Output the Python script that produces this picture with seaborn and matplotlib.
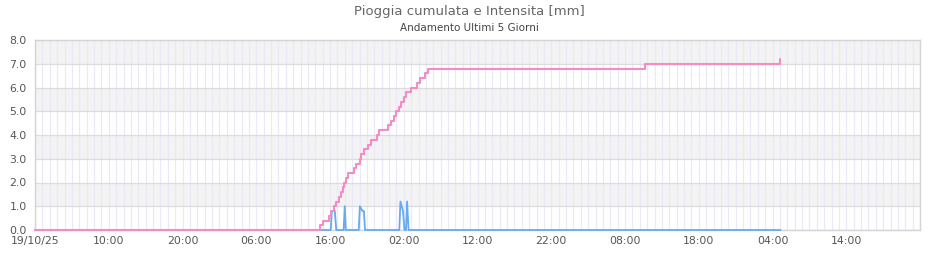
import matplotlib
matplotlib.use("Agg")
import matplotlib.pyplot as plt
from matplotlib.ticker import MultipleLocator, FuncFormatter
import seaborn as sns
import pandas as pd

# ---- data (hours since 19/10/25 00:00) ----
start = pd.Timestamp("2025-10-19 00:00")

cum_hours = [0.0, 38.7, 39.0, 39.9, 40.1, 40.6, 40.8, 41.2, 41.5, 41.8, 41.9,
             42.2, 42.5, 43.3, 43.5, 44.0, 44.2, 44.6, 45.2, 45.6, 46.4, 46.6,
             47.9, 48.3, 48.7, 49.0, 49.3, 49.6, 50.1, 50.3, 51.0, 51.8, 52.2,
             52.9, 53.3, 82.7, 101.0]
cum_values = [0.0, 0.2, 0.4, 0.6, 0.8, 1.0, 1.2, 1.4, 1.6, 1.8, 2.0,
              2.2, 2.4, 2.6, 2.8, 3.0, 3.2, 3.4, 3.6, 3.8, 4.0, 4.2,
              4.4, 4.6, 4.8, 5.0, 5.2, 5.4, 5.6, 5.8, 6.0, 6.2, 6.4,
              6.6, 6.8, 7.0, 7.2]

int_hours = [0.0, 40.1, 40.25, 40.65, 40.85, 41.85, 42.0, 42.15, 43.9, 44.05,
             44.4, 44.6, 44.75, 49.4, 49.55, 49.9, 50.1, 50.3, 50.45, 50.65, 101.1]
int_values = [0.0, 0.0, 0.8, 0.8, 0.0, 0.0, 1.0, 0.0, 0.0, 1.0,
              0.8, 0.8, 0.0, 0.0, 1.2, 0.8, 0.0, 0.0, 1.2, 0.0, 0.0]

y_ticks = [0.0, 1.0, 2.0, 3.0, 4.0, 5.0, 6.0, 7.0, 8.0]
x_span_hours = 120

title = "Pioggia cumulata e Intensita [mm]"
subtitle = "Andamento Ultimi 5 Giorni"

cum_df = pd.DataFrame({"ore": cum_hours, "mm": cum_values})
int_df = pd.DataFrame({"ore": int_hours, "mm": int_values})

# ---- style ----
sns.set_theme(style="white")
plt.rcParams["font.family"] = ["DejaVu Sans"]

fig = plt.figure(figsize=(9.4, 2.6), dpi=100)
ax = fig.add_axes([35 / 940, 30 / 260, 885 / 940, 190 / 260])

# alternating bands
for lo in range(0, 8):
    if lo % 2 == 1:
        ax.axhspan(lo, lo + 1, color="#f3f3f3", zorder=0, lw=0)

ax.xaxis.set_major_locator(MultipleLocator(10))
ax.xaxis.set_minor_locator(MultipleLocator(1))
ax.grid(which="minor", axis="x", color="#ebe8fa", lw=0.9, zorder=1)
ax.grid(which="major", axis="x", color="#ebe8fa", lw=0.9, zorder=1)
ax.set_yticks(y_ticks)
ax.grid(which="major", axis="y", color="#dcdcdc", lw=0.9, zorder=1)
ax.set_axisbelow(True)

sns.lineplot(data=int_df, x="ore", y="mm", ax=ax, color="#66aaf0",
             lw=1.3, clip_on=False)
ax.lines[-1].set_zorder(3)
sns.lineplot(data=cum_df, x="ore", y="mm", ax=ax, color="#f28cc2",
             lw=1.5, drawstyle="steps-post", clip_on=False)
ax.lines[-1].set_zorder(5)

ax.set_xlim(0, x_span_hours)
ax.set_ylim(0, 8)
ax.set_xlabel("")
ax.set_ylabel("")


def fmt_x(v, pos):
    if v >= x_span_hours - 0.01:
        return ""
    t = start + pd.Timedelta(hours=v)
    if v == 0:
        return t.strftime("%d/%m/%y")
    return t.strftime("%H:%M")


ax.xaxis.set_major_formatter(FuncFormatter(fmt_x))
ax.yaxis.set_major_formatter(FuncFormatter(lambda v, p: f"{v:.1f}"))
ax.tick_params(axis="both", length=0, labelsize=7.8, colors="#555555")
ax.tick_params(axis="x", pad=4)
ax.tick_params(axis="y", pad=6)

for side in ["left", "bottom", "right", "top"]:
    ax.spines[side].set_color("#d4d4d4")
    ax.spines[side].set_linewidth(1.0)
    ax.spines[side].set_zorder(2)

fig.text(469 / 940, 1 - 11 / 260, title, ha="center", va="center",
         fontsize=9.5, color="#666666")
fig.text(469 / 940, 1 - 28 / 260, subtitle, ha="center", va="center",
         fontsize=7.5, color="#444444")

fig.savefig("out.png", dpi=100)
